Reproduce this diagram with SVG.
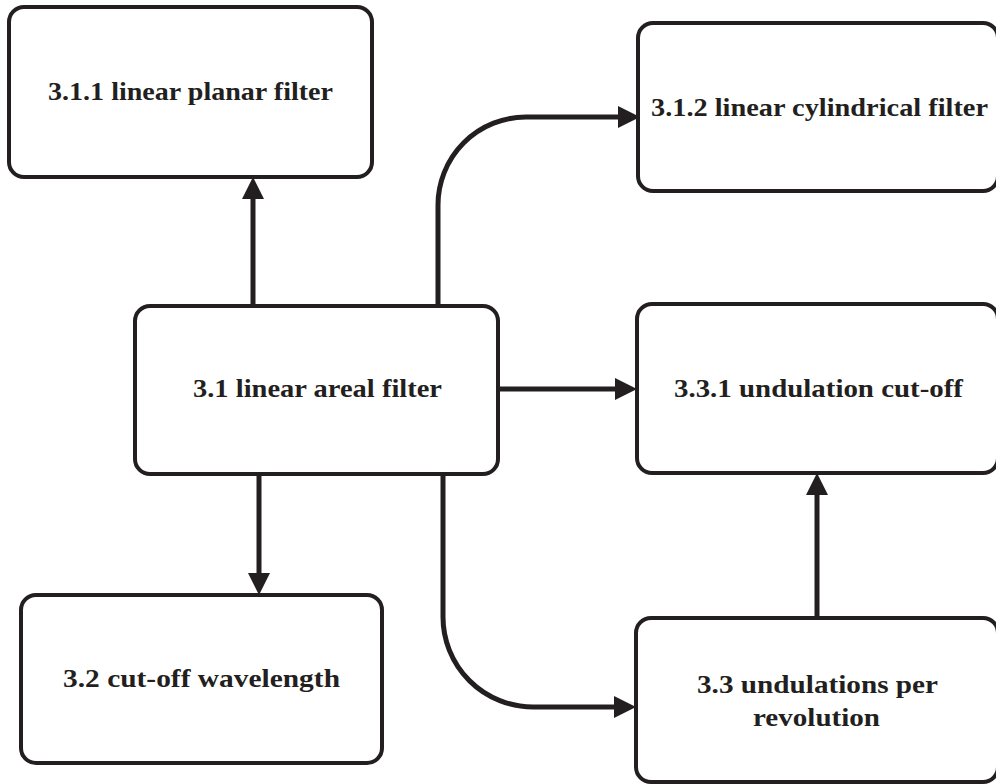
<svg xmlns="http://www.w3.org/2000/svg" width="996" height="784" viewBox="0 0 996 784">
<style>
.box{fill:#fff;stroke:#231f20;stroke-width:4}
.lbl{font-family:"Liberation Serif","DejaVu Serif",serif;font-weight:bold;font-size:26px;fill:#231f20;text-anchor:middle}
.c{fill:none;stroke:#231f20;stroke-width:5;marker-end:url(#ah)}
</style>
<defs>
<marker id="ah" viewBox="0 0 22 22" refX="16" refY="11" markerWidth="22" markerHeight="22" markerUnits="userSpaceOnUse" orient="auto">
<path d="M0,0 L22,11 L0,22 Z" fill="#231f20"/>
</marker>
</defs>
<rect width="996" height="784" fill="#fff"/>
<g id="connectors">
<path class="c" d="M253,306 L253,183"/>
<path class="c" d="M259,474 L259,589"/>
<path class="c" d="M498,389 L631,389"/>
<path class="c" d="M438,306 L438,205 A88,88 0 0 1 526,117 L634,117"/>
<path class="c" d="M443,474 L443,617 A90,90 0 0 0 533,707 L630,707"/>
<path class="c" d="M817,618 L817,479"/>
</g>
<g id="n311">
<rect class="box" x="9" y="7" width="363" height="170" rx="15"/>
<text class="lbl" x="190.5" y="100" textLength="285" lengthAdjust="spacingAndGlyphs">3.1.1 linear planar filter</text>
</g>
<g id="n312">
<rect class="box" x="638" y="23" width="360" height="168" rx="15"/>
<text class="lbl" x="819.5" y="116" textLength="337" lengthAdjust="spacingAndGlyphs">3.1.2 linear cylindrical filter</text>
</g>
<g id="n31">
<rect class="box" x="135" y="306" width="363" height="168" rx="15"/>
<text class="lbl" x="317.5" y="397" textLength="249" lengthAdjust="spacingAndGlyphs">3.1 linear areal filter</text>
</g>
<g id="n331">
<rect class="box" x="637" y="304" width="361" height="169" rx="15"/>
<text class="lbl" x="818.5" y="397" textLength="289" lengthAdjust="spacingAndGlyphs">3.3.1 undulation cut-off</text>
</g>
<g id="n32">
<rect class="box" x="21" y="595" width="361" height="168" rx="15"/>
<text class="lbl" x="201.5" y="687" textLength="277" lengthAdjust="spacingAndGlyphs">3.2 cut-off wavelength</text>
</g>
<g id="n33">
<rect class="box" x="636" y="618" width="362" height="164" rx="15"/>
<text class="lbl" x="817.5" y="693" textLength="241" lengthAdjust="spacingAndGlyphs">3.3 undulations per</text>
<text class="lbl" x="816.5" y="726" textLength="127" lengthAdjust="spacingAndGlyphs">revolution</text>
</g>
</svg>
